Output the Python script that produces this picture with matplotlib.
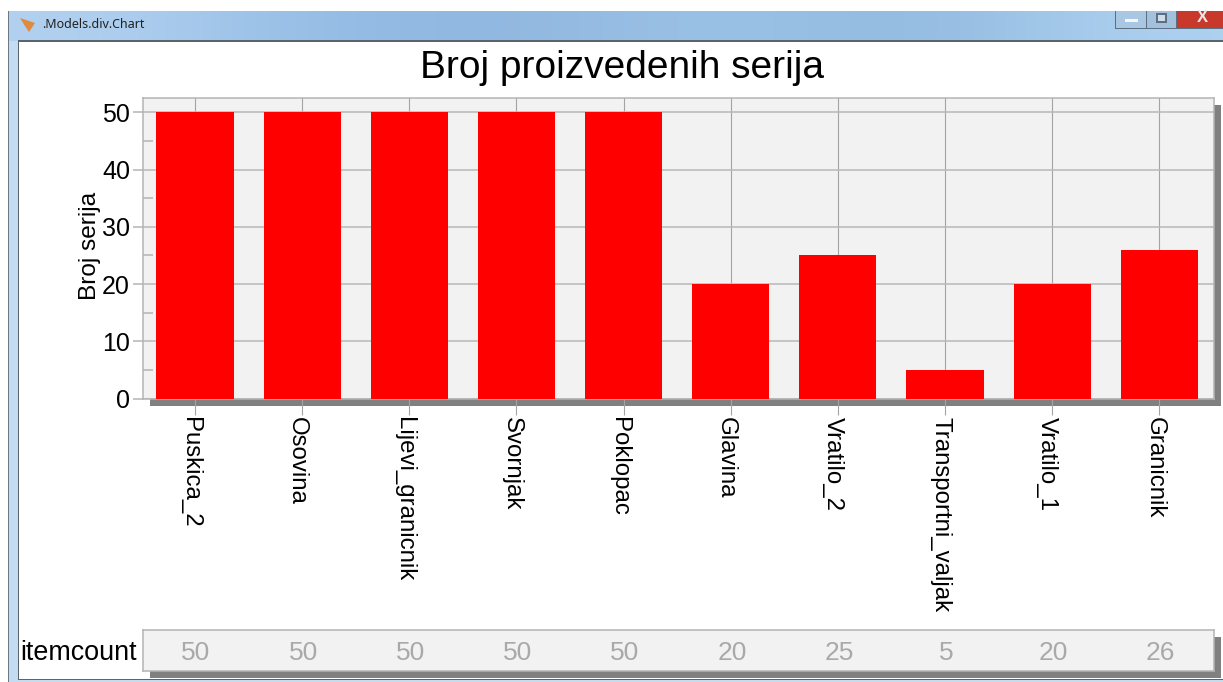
import numpy as np
import matplotlib.pyplot as plt
from matplotlib.patches import Rectangle, Polygon
from matplotlib.transforms import ScaledTranslation

plt.rcParams['font.family'] = ['Liberation Sans', 'DejaVu Sans']

# Podaci
dijelovi = ['Puskica_2', 'Osovina', 'Lijevi_granicnik', 'Svornjak', 'Poklopac',
            'Glavina', 'Vratilo_2', 'Transportni_valjak', 'Vratilo_1', 'Granicnik']
serije = [50, 50, 50, 50, 50, 20, 25, 5, 20, 26]

W, H = 1223, 682
fig = plt.figure(figsize=(W / 100, H / 100), dpi=100)


def box(x0, y0, x1, y1):
    # pikseli (od gornjeg lijevog kuta) u koordinate figure
    return [x0 / W, 1 - y1 / H, (x1 - x0) / W, (y1 - y0) / H]


def rect(x0, y0, x1, y1, color, z=0):
    l, b, w, h = box(x0, y0, x1, y1)
    fig.patches.append(Rectangle((l, b), w, h, transform=fig.transFigure,
                                 facecolor=color, edgecolor='none', zorder=z))


# Okvir prozora
chrome = fig.add_axes(box(8, 11, W, 41), zorder=-5)
boje = np.array([[0.70, 0.82, 0.94], [0.58, 0.74, 0.90], [0.56, 0.71, 0.87],
                 [0.62, 0.77, 0.91], [0.56, 0.72, 0.87], [0.68, 0.82, 0.94]])
chrome.imshow(boje[None, :, :], aspect='auto', interpolation='bicubic')
chrome.axis('off')

rect(8, 41, 18, H, '#c4dcf2', -4)
rect(8, 11, 9, H, '#6c7884', -3)
rect(18, 41, W, 679, 'white', -2)
rect(18, 40, W, 41.5, '#5c646b', -1)
rect(18, 41, 19, 679, '#5c646b', -1)
rect(18, 678.5, W, 680, '#5c646b', -1)
rect(18, 680, W, H, '#c4dcf2', -1)

# Sjene grafa i tablice
rect(150, 105, 1221, 405.5, '#808080', 1)
rect(150, 637, 1221, 678, '#808080', 1)

# Gumbi prozora
rect(1115, 11, W, 29, '#5d6f82', 2)
rect(1116, 11, 1146, 28, '#a9c6e2', 2)
rect(1147, 11, 1176, 28, '#a3c0dc', 2)
rect(1177, 11, W, 28, '#c8392c', 2)
rect(1125, 19, 1138, 22, '#f4f6f8', 3)
rect(1156, 13, 1167, 23, '#5d6f82', 3)
rect(1158, 15, 1165, 21, '#cfdde9', 3)
fig.text(1202 / W, 1 - 18 / H, 'X', fontsize=12, fontweight='bold', color='#e8e8e8',
         ha='center', va='center', zorder=4)

fig.patches.append(Polygon([(20 / W, 1 - 18 / H), (35 / W, 1 - 23 / H), (29 / W, 1 - 32 / H),
                            (25 / W, 1 - 26 / H)], transform=fig.transFigure,
                           facecolor='#e08a3c', edgecolor='none', zorder=2))
fig.text(42 / W, 1 - 24.5 / H, '.Models.div.Chart', fontsize=9, color='#222222',
         ha='left', va='center', family=['Noto Sans', 'DejaVu Sans'])

# Graf
ax = fig.add_axes(box(142.5, 98, 1214, 398.5), zorder=3)
ax.set_facecolor('#f2f2f2')
x = np.arange(len(dijelovi))
ax.bar(x, serije, width=0.72, color='#ff0000', zorder=3)
ax.set_xlim(-0.49, 9.51)
ax.set_ylim(0, 52.5)
ax.set_axisbelow(True)
ax.grid(True, axis='y', color='#b8b8b8', linewidth=1.1)
ax.grid(True, axis='x', color='#a4a4a4', linewidth=0.8)
ax.set_yticks([0, 10, 20, 30, 40, 50])
ax.set_yticks([5, 15, 25, 35, 45], minor=True)
ax.set_xticks(x)
ax.set_xticklabels(dijelovi, rotation=270, ha='center', va='top')
ax.tick_params(axis='y', which='major', labelsize=18, length=7.5, width=1.1,
               color='#b4b4b4', pad=1.5)
ax.tick_params(axis='y', which='minor', length=7.5, width=1.1, direction='in', color='#b4b4b4')
ax.tick_params(axis='x', labelsize=17.3, length=11.5, width=0.8, color='#a4a4a4', pad=1.5)
pomak = ScaledTranslation(-5 / 100, 0, fig.dpi_scale_trans)
for lab in ax.get_xticklabels():
    lab.set_transform(lab.get_transform() + pomak)
for s in ax.spines.values():
    s.set_color('#b4b4b4')
    s.set_linewidth(1.1)

fig.text(90 / W, 1 - 246 / H, 'Broj serija', fontsize=17.6, rotation=90, ha='center', va='center')
fig.text(622 / W, 1 - 68.5 / H, 'Broj proizvedenih serija', fontsize=28, ha='center', va='center')

# Tablica ispod grafa
tab = fig.add_axes(box(142.5, 630, 1214, 670.5), zorder=3)
tab.set_facecolor('#f2f2f2')
tab.set_xlim(-0.5, 9.5)
tab.set_ylim(0, 1)
tab.set_xticks([])
tab.set_yticks([])
for s in tab.spines.values():
    s.set_color('#b4b4b4')
    s.set_linewidth(1.1)
for i, v in enumerate(serije):
    tab.text(x[i], 0.43, str(v), fontsize=19, color='#a9a9a9', ha='center', va='center')
fig.text(136.5 / W, 1 - 653 / H, 'itemcount', fontsize=19.4, ha='right', va='center')

fig.savefig('out.png', dpi=100)
